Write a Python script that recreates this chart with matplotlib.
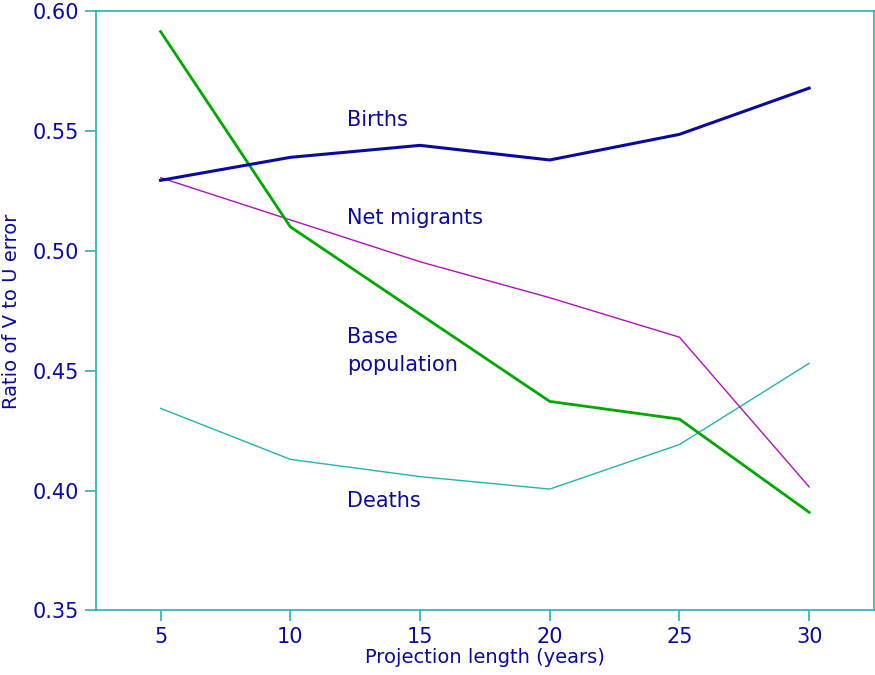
import matplotlib
matplotlib.use("Agg")
import matplotlib.pyplot as plt

years = [5, 10, 15, 20, 25, 30]
births = [0.5295, 0.5391, 0.5441, 0.5380, 0.5487, 0.5680]
net_migrants = [0.5306, 0.5130, 0.4955, 0.4805, 0.4640, 0.4015]
base_population = [0.5916, 0.5101, 0.4736, 0.4372, 0.4298, 0.3909]
deaths = [0.4343, 0.4130, 0.4058, 0.4006, 0.4192, 0.4531]

yticks = [0.35, 0.40, 0.45, 0.50, 0.55, 0.60]
ytick_labels = ["0.35", "0.40", "0.45", "0.50", "0.55", "0.60"]

TEXT = "#0a0aa0"
AXC = "#22b4b4"

plt.rcParams['font.family'] = ['DejaVu Sans']
fig = plt.figure(figsize=(8.75, 6.75), dpi=100)
ax = fig.add_axes([0.1094, 0.0959, 0.8895, 0.8871])

ax.plot(years, deaths, color="#22b4b4", lw=1.0)
ax.plot(years, net_migrants, color="#b010c0", lw=1.0)
ax.plot(years, base_population, color="#00a800", lw=2.0)
ax.plot(years, births, color="#0a0aa0", lw=2.2)

ax.set_xlim(2.5, 32.5)
ax.set_ylim(0.35, 0.60)
ax.set_xticks(years)
ax.set_xticklabels([str(y) for y in years])
ax.set_yticks(yticks)
ax.set_yticklabels(ytick_labels)

for s in ax.spines.values():
    s.set_color(AXC)
    s.set_linewidth(1.2)
ax.tick_params(axis='both', colors=AXC, labelcolor=TEXT, labelsize=15,
               length=8, width=1.2, direction='out', pad=4)

ax.set_xlabel("Projection length (years)", color=TEXT, fontsize=14, labelpad=1)
ax.set_ylabel("Ratio of V to U error", color=TEXT, fontsize=14, labelpad=8)

lx = 12.2
ax.text(lx, 0.5547, "Births", color=TEXT, fontsize=15, va='center', ha='left')
ax.text(lx, 0.5138, "Net migrants", color=TEXT, fontsize=15, va='center', ha='left')
ax.text(lx, 0.4583, "Base\npopulation", color=TEXT, fontsize=15, va='center', ha='left',
        linespacing=1.5)
ax.text(lx, 0.3956, "Deaths", color=TEXT, fontsize=15, va='center', ha='left')

fig.savefig("out.png", dpi=100)
